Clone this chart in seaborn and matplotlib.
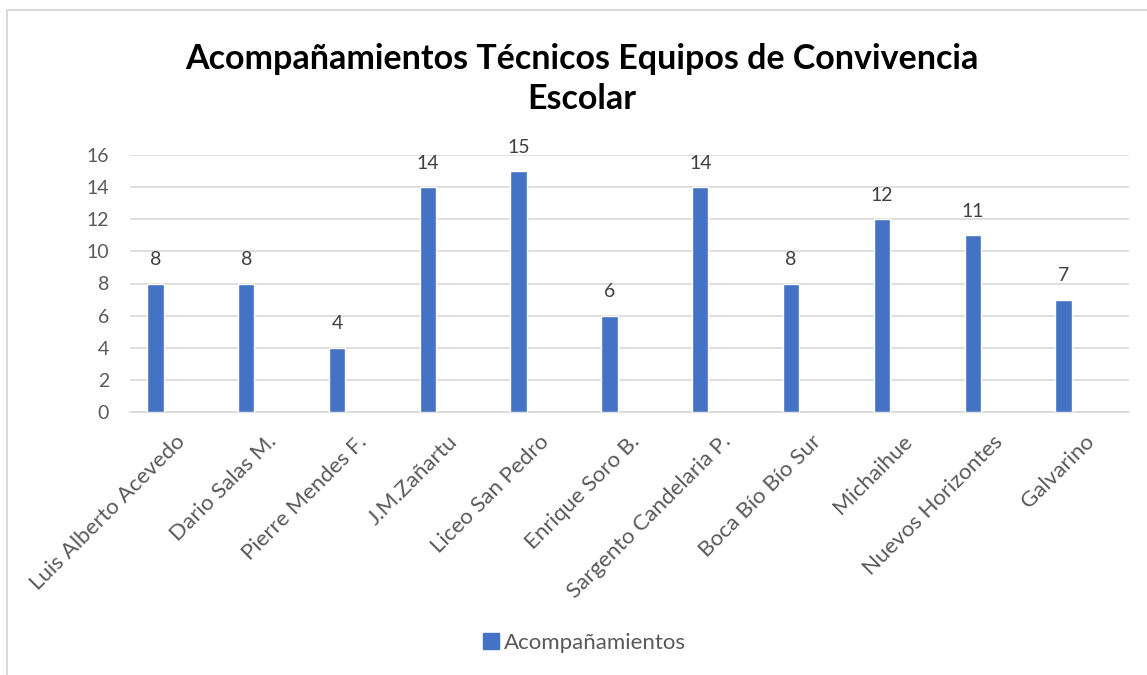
import numpy as np
import pandas as pd
import seaborn as sns
import matplotlib.pyplot as plt
from matplotlib.lines import Line2D

# Datos del grafico
escuelas = ["Luis Alberto Acevedo", "Dario Salas M.", "Pierre Mendes F.", "J.M.Zañartu",
            "Liceo San Pedro", "Enrique Soro B.", "Sargento Candelaria P.", "Boca Bío Bío Sur",
            "Michaihue", "Nuevos Horizontes", "Galvarino"]
acompanamientos = [8, 8, 4, 14, 15, 6, 14, 8, 12, 11, 7]

df = pd.DataFrame({"escuela": escuelas, "valor": acompanamientos})

sns.set_theme(style="white")
plt.rcParams['font.family'] = ['Lato', 'DejaVu Sans']

blue = "#4472C4"
grey = "#595959"

fig = plt.figure(figsize=(11.47, 6.75), dpi=100)
ax = fig.add_axes([0.1133, 0.3896, 0.8710, 0.3808])

sns.barplot(data=df, x="escuela", y="valor", color=blue, width=0.18,
            saturation=1, ax=ax, zorder=3)

# en el original las barras quedan corridas a la izquierda de cada categoria
shift = 0.22
n = len(escuelas)
ax.set_xlim(-0.5 + shift, n - 0.5 + shift)
ax.set_xticks(np.arange(n) + shift)
ax.set_xticklabels(escuelas)

ax.set_ylim(0, 16)
ax.set_yticks(np.arange(0, 17, 2))
ax.yaxis.grid(True, color="#D9D9D9", linewidth=1.2, zorder=0)
ax.set_axisbelow(True)
for s in ["top", "right", "left"]:
    ax.spines[s].set_visible(False)
ax.spines["bottom"].set_color("#D9D9D9")
ax.spines["bottom"].set_linewidth(1.2)
ax.set_xlabel("")
ax.set_ylabel("")
ax.tick_params(axis="y", length=0, labelsize=14, labelcolor=grey, pad=15)
ax.tick_params(axis="x", length=0, labelsize=16, labelcolor=grey, pad=14)
plt.setp(ax.get_xticklabels(), rotation=45, ha="right", va="top",
         rotation_mode="anchor")

# etiquetas de datos
for c in ax.containers:
    ax.bar_label(c, labels=[str(v) for v in acompanamientos], padding=11,
                 fontsize=14, color="#404040")

fig.text(0.507, 0.883, "Acompañamientos Técnicos Equipos de Convivencia\nEscolar",
         ha="center", va="center", fontsize=24.5, fontweight="bold", color="black",
         linespacing=1.3)

handle = Line2D([], [], marker="s", linestyle="none", markersize=11,
                markerfacecolor=blue, markeredgecolor=blue)
fig.legend([handle], ["Acompañamientos"], loc="center", bbox_to_anchor=(0.509, 0.047),
           frameon=False, fontsize=16, labelcolor=grey, handletextpad=0.2,
           handlelength=0.8)

# borde del area del grafico
fig.add_artist(Line2D([0.0065, 0.0065], [0, 0.985], transform=fig.transFigure,
                      color="#D9D9D9", linewidth=1.5))
fig.add_artist(Line2D([0.0065, 1.0], [0.985, 0.985], transform=fig.transFigure,
                      color="#D9D9D9", linewidth=1.5))

fig.savefig("out.png", dpi=100)
